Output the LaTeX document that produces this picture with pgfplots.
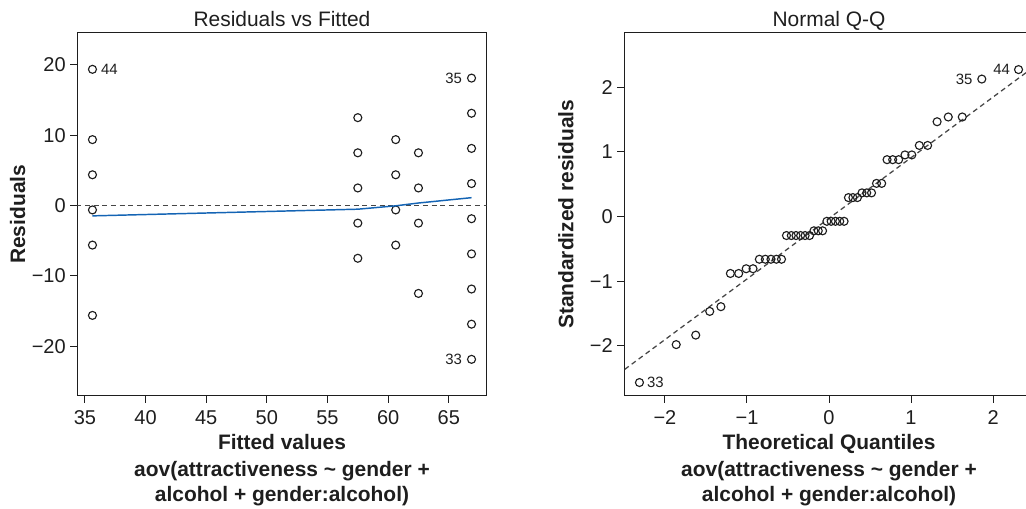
\documentclass[border=0pt]{standalone}
\usepackage{fontspec}
\setmainfont{Liberation Sans}
\usepackage{pgfplots}
\pgfplotsset{compat=1.18}
\definecolor{txt}{RGB}{30,30,30}
\definecolor{loess}{RGB}{20,100,180}
\definecolor{refl}{RGB}{70,70,70}

\newcommand{\tickfont}{\fontsize{15}{18}\selectfont}
\newcommand{\labfont}{\fontsize{15.7}{19}\selectfont}
\tikzset{
 idlab/.style={font=\fontsize{11.2}{13}\selectfont, text=txt, inner sep=0pt},
 sublab/.style={anchor=base, text=txt, font=\labfont\bfseries},
}
\pgfplotsset{
 rplot/.style={
  scale only axis, width=307.05pt, height=272.5pt,
  axis line style={txt, line width=0.75pt},
  tick style={txt, line width=0.75pt},
  major tick length=5.25pt, tick align=outside, tick pos=left,
  font=\tickfont,
  ticklabel style={txt, font=\tickfont},
  xticklabel style={anchor=base, yshift=-15.8pt},
  yticklabel style={anchor=east, inner xsep=0pt, xshift=-3.25pt},
  title style={at={(axis description cs:0.5,1.0184)}, anchor=base, yshift=-6.75pt, text=txt, font=\labfont},
  every axis x label/.style={at={(axis description cs:0.5,-0.1486)}, anchor=base, text=txt, font=\labfont\bfseries},
  every axis y label/.style={rotate=90, anchor=base, text=txt, font=\labfont\bfseries},
  clip mode=individual,
 },
 pts/.style={only marks, mark=o, mark size=3pt, mark options={txt, line width=0.85pt}},
 refline/.style={refl, line width=0.95pt, dash pattern=on 3.75pt off 2.75pt},
}

\pgfplotstableread{
x y
35.625 -5.625
35.625 19.375
35.625 -0.625
35.625 -15.625
35.625 9.375
35.625 4.375
57.5 12.5
57.5 7.5
57.5 2.5
57.5 -2.5
57.5 -7.5
60.625 9.375
60.625 4.375
60.625 -0.625
60.625 -5.625
62.5 7.5
62.5 2.5
62.5 -2.5
62.5 -12.5
66.875 18.125
66.875 13.125
66.875 8.125
66.875 3.125
66.875 -1.875
66.875 -6.875
66.875 -11.875
66.875 -16.875
66.875 -21.875
}\resid

\pgfplotstableread{
x y
-2.3106 -2.5663
-1.8627 -1.9798
-1.6247 -1.8331
-1.4539 -1.4665
-1.3177 -1.3932
-1.2022 -0.8799
-1.1009 -0.8799
-1.0096 -0.8066
-0.9262 -0.8066
-0.8490 -0.6599
-0.7764 -0.6599
-0.7076 -0.6599
-0.6420 -0.6599
-0.5791 -0.6599
-0.5184 -0.2933
-0.4595 -0.2933
-0.4023 -0.2933
-0.3462 -0.2933
-0.2913 -0.2933
-0.2371 -0.2933
-0.1838 -0.2200
-0.1310 -0.2200
-0.0784 -0.2200
-0.0261 -0.0733
0.0261 -0.0733
0.0784 -0.0733
0.1310 -0.0733
0.1838 -0.0733
0.2371 0.2933
0.2913 0.2933
0.3462 0.2933
0.4023 0.3666
0.4595 0.3666
0.5184 0.3666
0.5791 0.5133
0.6420 0.5133
0.7076 0.8799
0.7764 0.8799
0.8490 0.8799
0.9262 0.9532
1.0096 0.9532
1.1009 1.0999
1.2022 1.0999
1.3177 1.4665
1.4539 1.5398
1.6247 1.5398
1.8627 2.1264
2.3106 2.2730
}\qq

\begin{document}
\begin{tikzpicture}
\begin{axis}[rplot,
  at={(57.975pt,84.75pt)}, anchor=south west,
  xmin=34.375, xmax=68.125, ymin=-27.089, ymax=24.589,
  xtick={35,40,45,50,55,60,65},
  xticklabels={35,40,45,50,55,60,65},
  ytick={-20,-10,0,10,20},
  yticklabels={−20,−10,0,10,20},
  title={Residuals vs Fitted},
  xlabel={Fitted values},
  ylabel={Residuals},
  every axis y label/.append style={at={(axis description cs:-0.1277,0.5)}},
]
\addplot[refline] coordinates {(30,0) (70,0)};
\addplot[pts] table[x=x,y=y] {\resid};
\addplot[loess, line width=1.1pt] coordinates {(35.625,-1.47) (57.5,-0.52) (60.625,-0.04) (62.5,0.36) (66.875,1.12)};
\node[idlab, anchor=west, xshift=6.3pt] at (axis cs:35.625,19.375) {44};
\node[idlab, anchor=east, xshift=-7pt] at (axis cs:66.875,18.125) {35};
\node[idlab, anchor=east, xshift=-7pt] at (axis cs:66.875,-21.875) {33};
\node[sublab] at (axis description cs:0.5,-0.2221) {aov(attractiveness \char"007E{} gender +};
\node[sublab] at (axis description cs:0.5,-0.2912) {alcohol + gender:alcohol)};
\end{axis}

\begin{axis}[rplot,
  at={(468.225pt,84.75pt)}, anchor=south west,
  xmin=-2.4954, xmax=2.4954, ymin=-2.7744, ymax=2.844,
  xtick={-2,-1,0,1,2},
  xticklabels={−2,−1,0,1,2},
  ytick={-2,-1,0,1,2},
  yticklabels={−2,−1,0,1,2},
  title={Normal Q-Q},
  xlabel={Theoretical Quantiles},
  ylabel={Standardized residuals},
  every axis y label/.append style={at={(axis description cs:-0.1243,0.5)}},
]
\addplot[refline] coordinates {(-3,-2.8405) (3,2.7857)};
\addplot[pts] table[x=x,y=y] {\qq};
\node[idlab, anchor=west, xshift=5.5pt] at (axis cs:-2.3106,-2.5663) {33};
\node[idlab, anchor=east, xshift=-6.75pt] at (axis cs:1.8627,2.1264) {35};
\node[idlab, anchor=east, xshift=-6.3pt] at (axis cs:2.3106,2.2730) {44};
\node[sublab] at (axis description cs:0.5,-0.2221) {aov(attractiveness \char"007E{} gender +};
\node[sublab] at (axis description cs:0.5,-0.2912) {alcohol + gender:alcohol)};
\end{axis}
\pgfresetboundingbox
\path[use as bounding box] (0pt,0pt) rectangle (769.5pt,381.75pt);
\end{tikzpicture}
\end{document}
